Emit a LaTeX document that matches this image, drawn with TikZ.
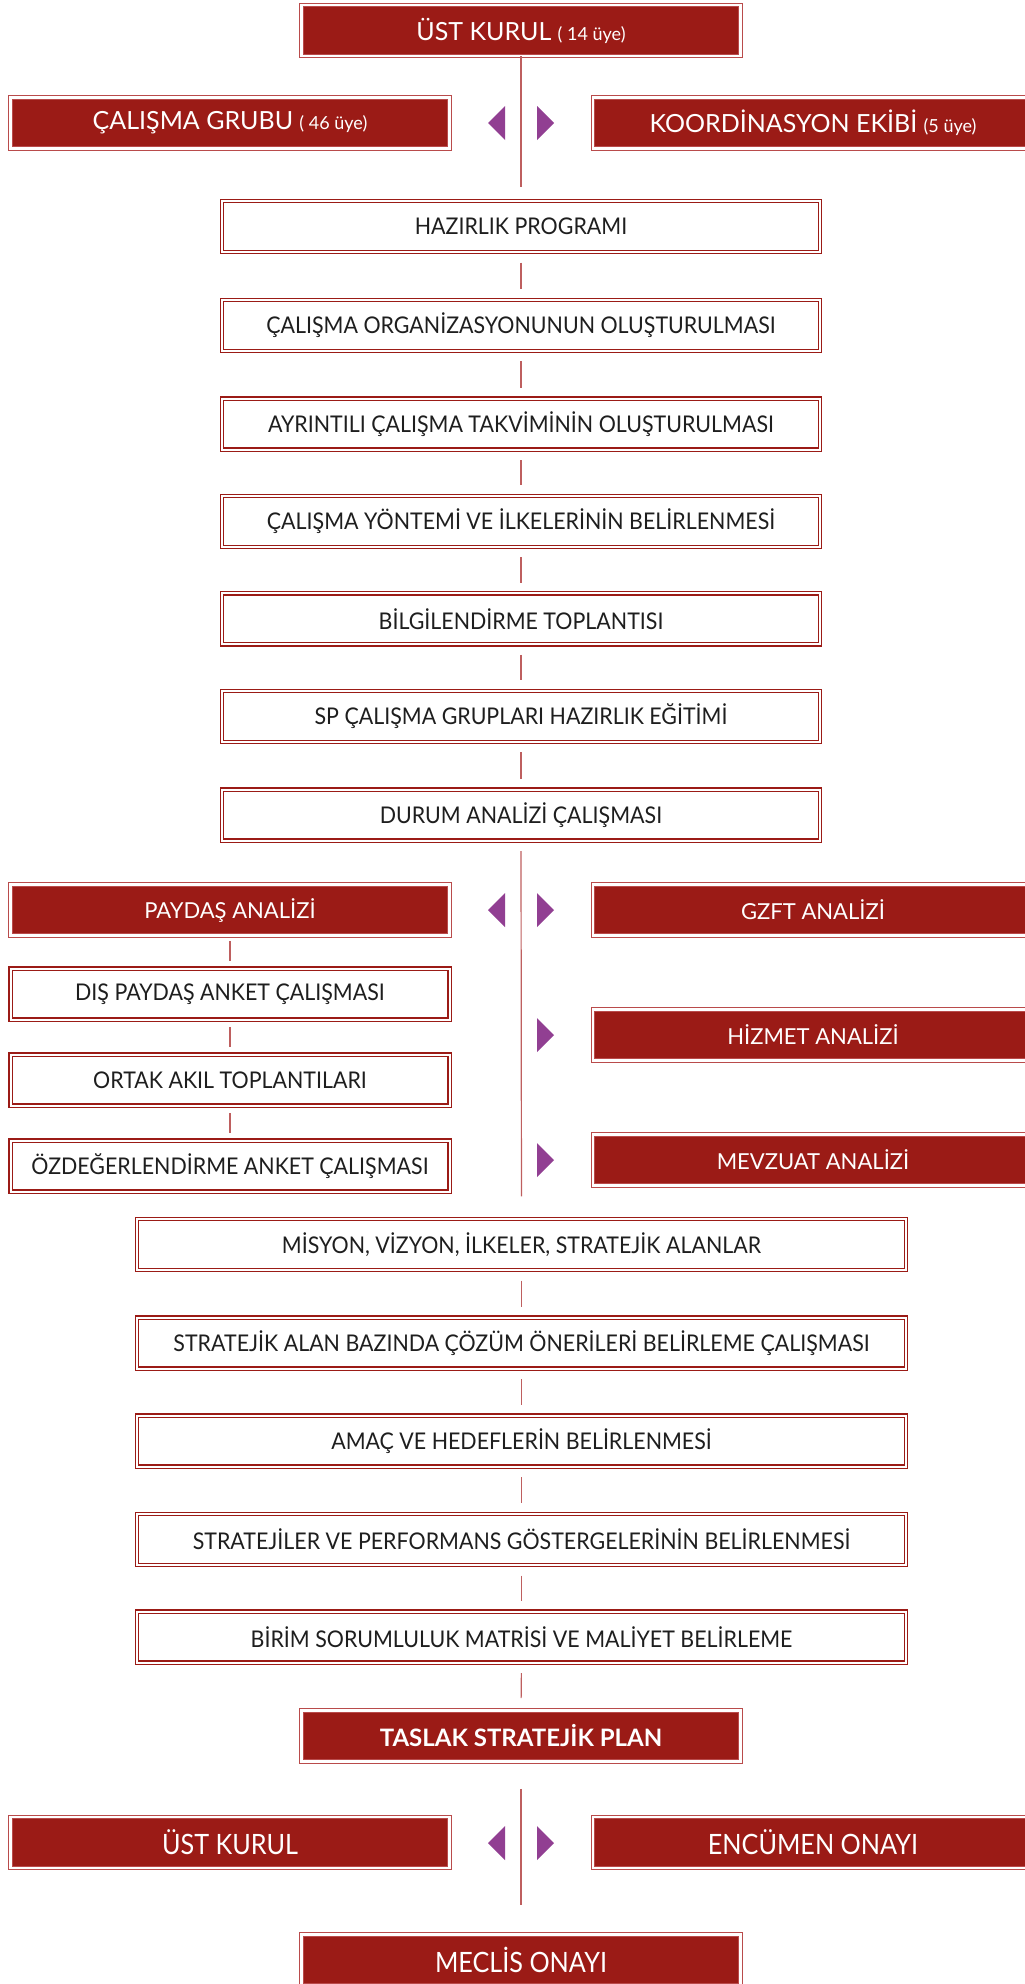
\documentclass[tikz,border=0pt]{standalone}
\usepackage{fontspec}
\setmainfont{Lato}
\newfontfamily\latocond[FakeStretch=0.93]{Lato}
\newfontfamily\latobot[FakeStretch=0.9]{Lato}
\definecolor{boxred}{RGB}{155,27,22}
\definecolor{edgered}{RGB}{185,75,75}
\definecolor{linered}{RGB}{190,95,95}
\definecolor{arrowpurple}{RGB}{145,63,146}
\definecolor{txt}{RGB}{30,30,30}
\newcommand\biarrow[1]{%
  \fill[tri] (488,#1) -- (505,{#1-17}) -- (505,{#1+17}) -- cycle;
  \fill[tri] (554,#1) -- (537,{#1-17}) -- (537,{#1+17}) -- cycle;}
\newcommand\rarrow[1]{%
  \fill[tri] (554,#1) -- (537,{#1-17}) -- (537,{#1+17}) -- cycle;}
\newcommand\smalltxt[1]{{\fontsize{18}{21}\selectfont #1}}
\begin{document}
\begin{tikzpicture}[x=1pt,y=-1pt,
  redbox/.style={draw=edgered, double=white, double distance=2.4pt, line width=0.9pt,
    fill=boxred, text=white, inner sep=0pt, minimum height=51pt,
    font=\fontsize{22}{26}\selectfont},
  redtop/.style={redbox, font=\fontsize{25}{29}\selectfont},
  redcond/.style={redbox, font=\latobot\fontsize{28}{32}\selectfont},
  whitebox/.style={draw=boxred, double=white, double distance=2pt, line width=1.2pt,
    fill=white, text=txt, inner sep=0pt, minimum height=51pt,
    font=\latocond\fontsize{23}{27}\selectfont},
  chain/.style={whitebox, minimum width=598pt},
  wide/.style={whitebox, minimum width=769pt},
  left/.style={whitebox, minimum width=439pt},
  conn/.style={draw=linered, line width=1.2pt},
  tri/.style={fill=arrowpurple}]
\useasboundingbox (0,0) rectangle (1025,1984);
\clip (0,0) rectangle (1025,1984);

% top block
\node[redtop, minimum width=439pt] (top) at (521,30.5) {ÜST KURUL \smalltxt{( 14 üye)}};
\node[redtop, minimum width=439pt] (cg) at (230,123) {ÇALIŞMA GRUBU \smalltxt{( 46 üye)}};
\node[redtop, minimum width=440pt] (ke) at (813,123) {KOORDİNASYON EKİBİ \smalltxt{(5 üye)}};
\biarrow{123}

% main chain
\node[chain] (hp) at (521,226.5) {HAZIRLIK PROGRAMI};
\node[chain] (co) at (521,325.2) {ÇALIŞMA ORGANİZASYONUNUN OLUŞTURULMASI};
\node[chain] (at) at (521,424) {AYRINTILI ÇALIŞMA TAKVİMİNİN OLUŞTURULMASI};
\node[chain] (cy) at (521,521.3) {ÇALIŞMA YÖNTEMİ VE İLKELERİNİN BELİRLENMESİ};
\node[chain] (bt) at (521,618.8) {BİLGİLENDİRME TOPLANTISI};
\node[chain] (sp) at (521,716.2) {SP ÇALIŞMA GRUPLARI HAZIRLIK EĞİTİMİ};
\node[chain] (da) at (521,815) {DURUM ANALİZİ ÇALIŞMASI};

\draw[conn, shorten >=13pt] (top.south) -- (hp.north);
\foreach \a/\b in {hp/co, co/at, at/cy, cy/bt, bt/sp, sp/da}
  \draw[conn, shorten <=10pt, shorten >=10pt] (\a.south) -- (\b.north);

% analysis block
\node[redbox, minimum width=439pt] (pa) at (230,910) {PAYDAŞ ANALİZİ};
\node[redbox, minimum width=440pt] (gz) at (813,910) {GZFT ANALİZİ};
\biarrow{910}
\node[left] (dp) at (230,994) {DIŞ PAYDAŞ ANKET ÇALIŞMASI};
\node[left] (oa) at (230,1080) {ORTAK AKIL TOPLANTILARI};
\node[left] (oz) at (230,1166) {ÖZDEĞERLENDİRME ANKET ÇALIŞMASI};
\draw[conn, shorten <=5pt, shorten >=7pt] (pa.south) -- (dp.north);
\draw[conn, shorten <=7pt, shorten >=7pt] (dp.south) -- (oa.north);
\draw[conn, shorten <=7pt, shorten >=7pt] (oa.south) -- (oz.north);
\node[redbox, minimum width=440pt] (hz) at (813,1035) {HİZMET ANALİZİ};
\rarrow{1035}
\node[redbox, minimum width=440pt] (mz) at (813,1160) {MEVZUAT ANALİZİ};
\rarrow{1160}

% strategy chain
\node[wide] (mv) at (521.5,1244.5) {MİSYON, VİZYON, İLKELER, STRATEJİK ALANLAR};
\node[wide] (sa) at (521.5,1343) {STRATEJİK ALAN BAZINDA ÇÖZÜM ÖNERİLERİ BELİRLEME ÇALIŞMASI};
\node[wide] (ah) at (521.5,1441) {AMAÇ VE HEDEFLERİN BELİRLENMESİ};
\node[wide] (st) at (521.5,1539.5) {STRATEJİLER VE PERFORMANS GÖSTERGELERİNİN BELİRLENMESİ};
\node[wide] (bs) at (521.5,1637) {BİRİM SORUMLULUK MATRİSİ VE MALİYET BELİRLEME};
\draw[conn, shorten <=10pt, shorten >=22pt] (da.south) -- (mv.north);
\foreach \a/\b in {mv/sa, sa/ah, ah/st, st/bs}
  \draw[conn, shorten <=10pt, shorten >=10pt] (\a.south) -- (\b.north);

\node[redbox, minimum width=439pt, font=\bfseries\fontsize{24}{28}\selectfont] (tsp) at (521,1736) {TASLAK STRATEJİK PLAN};
\draw[conn, shorten <=10pt, shorten >=12pt] (bs.south) -- (tsp.north);

% approval
\node[redcond, minimum width=439pt] (uk) at (230,1842.5) {ÜST KURUL};
\node[redcond, minimum width=440pt] (eo) at (813,1842.5) {ENCÜMEN ONAYI};
\biarrow{1843}
\node[redcond, minimum width=439pt] (mo) at (521,1960) {MECLİS ONAYI};
\draw[conn, shorten <=27pt, shorten >=29pt] (tsp.south) -- (mo.north);
\end{tikzpicture}
\end{document}
